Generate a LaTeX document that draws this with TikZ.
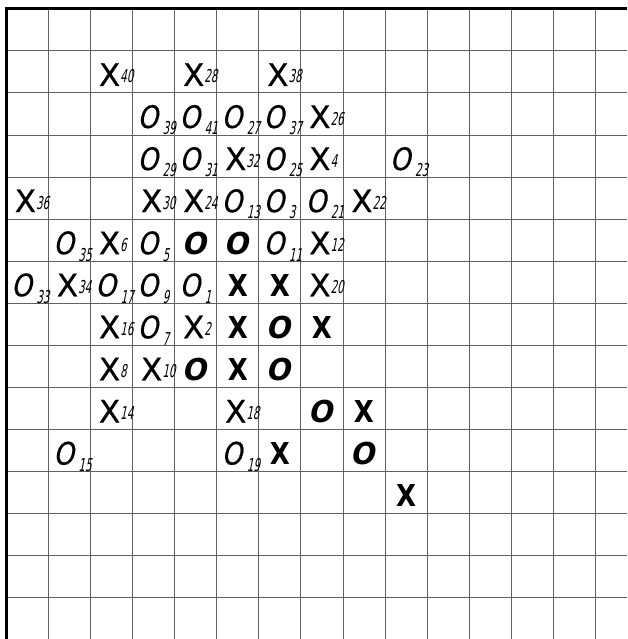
\documentclass[tikz,border=0pt]{standalone}
\usepackage{fontspec}
\newfontfamily\xfont[FakeBold=0.5]{DejaVu Sans}
\newfontfamily\ofont[FakeSlant=0.2,FakeStretch=0.84,FakeBold=0.5]{DejaVu Sans}
\newfontfamily\bxfont[FakeStretch=0.86]{DejaVu Sans}
\newfontfamily\bofont[FakeStretch=0.95,FakeSlant=0.2]{DejaVu Sans}
\newfontfamily\numfont[FakeSlant=0.2,FakeStretch=0.58]{DejaVu Sans}
\newcommand\XN[1]{{\fontsize{21}{21}\xfont X}\kern0pt\raisebox{2pt}{\fontsize{12}{12}\numfont #1}}
\newcommand\ON[1]{{\fontsize{21}{21}\ofont O}\kern3pt\raisebox{-4.6pt}{\fontsize{12}{12}\numfont #1}}
\newcommand\XB{{\fontsize{20.4}{20.4}\bxfont\bfseries X}}
\newcommand\OB{{\fontsize{20.4}{20.4}\bofont\bfseries O}}
\tikzset{
  gridline/.style={draw=black!62, line width=0.6pt},
  border/.style={draw=black, line width=2.2pt, line join=miter},
  mk/.style={inner sep=0pt, outer sep=0pt, anchor=base west},
  mkb/.style={inner sep=0pt, outer sep=0pt, anchor=base},
}
\begin{document}
\begin{tikzpicture}[x=1cm,y=1cm]
\useasboundingbox (-0.152,0.209) rectangle (14.752,-14.980);
% thin grid
\foreach \i in {1,...,14} {
  \draw[gridline] (\i,0) -- (\i,-14.980);
  \draw[gridline] (0,-\i) -- (14.752,-\i);
}
% heavy border (top and left)
\draw[border] (0,-14.980) -- (0,0) -- (14.752,0);
% numbered X marks: column/row/number
\foreach \c/\r/\n in {2/1/40, 4/1/28, 6/1/38, 7/2/26, 5/3/32, 7/3/4, 0/4/36, 3/4/30, 4/4/24, 8/4/22,
  2/5/6, 7/5/12, 1/6/34, 7/6/20, 2/7/16, 4/7/2, 2/8/8, 3/8/10, 2/9/14, 5/9/18}
  \node[mk] (x\n) at (\c+0.2,-\r-0.834) {\XN{\n}};
% numbered O marks
\foreach \c/\r/\n in {3/2/39, 4/2/41, 5/2/27, 6/2/37, 3/3/29, 4/3/31, 6/3/25, 9/3/23, 5/4/13, 6/4/3,
  7/4/21, 1/5/35, 3/5/5, 6/5/11, 0/6/33, 2/6/17, 3/6/9, 4/6/1, 3/7/7, 1/10/15, 5/10/19}
  \node[mk] (o\n) at (\c+0.12,-\r-0.834) {\ON{\n}};
% bold unnumbered X marks
\foreach \c/\r [count=\k] in {5/6, 6/6, 5/7, 7/7, 5/8, 8/9, 6/10, 9/11}
  \node[mkb] (bx\k) at (\c+0.5,-\r-0.834) {\XB};
% bold unnumbered O marks
\foreach \c/\r [count=\k] in {4/5, 5/5, 6/7, 4/8, 6/8, 7/9, 8/10}
  \node[mkb] (bo\k) at (\c+0.46,-\r-0.834) {\OB};
\end{tikzpicture}
\end{document}
